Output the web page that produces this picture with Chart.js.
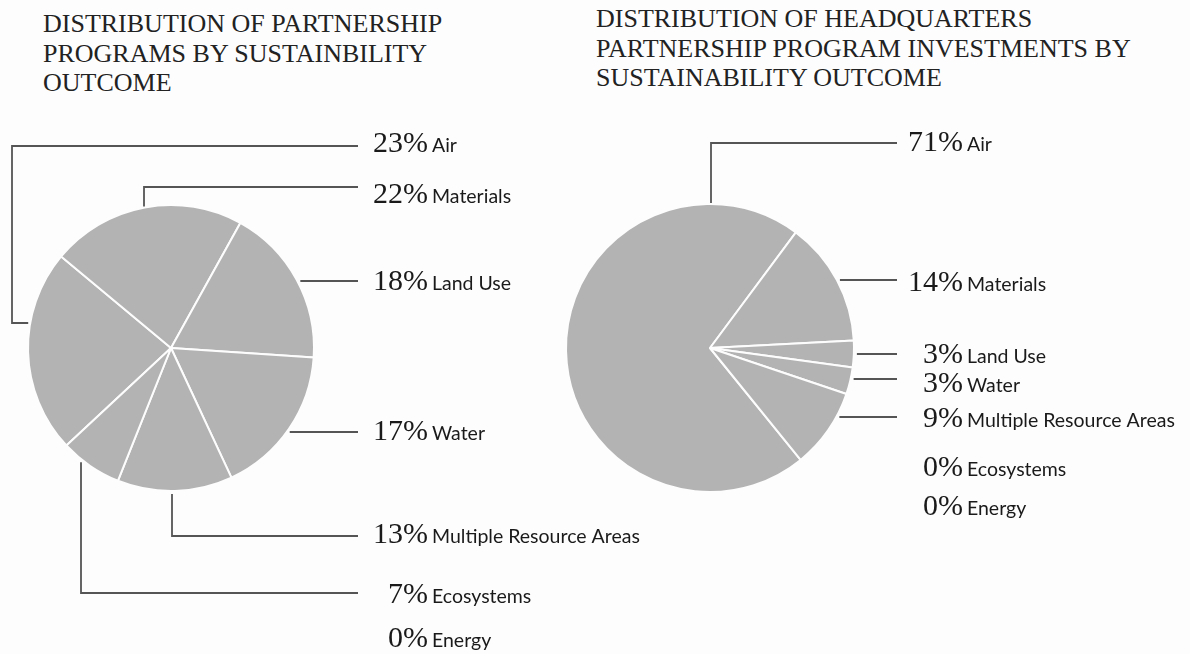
<!DOCTYPE html>
<html>
<head>
<meta charset="utf-8">
<script src="https://cdn.jsdelivr.net/npm/chart.js@4"></script>
<style>
  body { margin: 0; background: #fdfdfd; width: 1190px; height: 654px; overflow: hidden; position: relative; }
  .title { position: absolute; font-family: "Liberation Serif", serif; font-size: 26px; line-height: 29.5px; color: #222; white-space: nowrap; }
  canvas { position: absolute; top: 0; }
</style>
</head>
<body>
<div class="title" id="titleLeft" style="left:43px; top:9px;"></div>
<div class="title" id="titleRight" style="left:596px; top:4px;"></div>
<canvas id="programs" width="700" height="654" style="left:0"></canvas>
<canvas id="investments" width="630" height="654" style="left:560px"></canvas>
<script>
// the numbers
var outcomes = ['Air', 'Materials', 'Land Use', 'Water', 'Multiple Resource Areas', 'Ecosystems', 'Energy'];
var programShare = [23, 22, 18, 17, 13, 7, 0];
var investmentShare = [71, 14, 3, 3, 9, 0, 0];

var titleLeft = ['DISTRIBUTION OF PARTNERSHIP', 'PROGRAMS BY SUSTAINBILITY', 'OUTCOME'];
var titleRight = ['DISTRIBUTION OF HEADQUARTERS', 'PARTNERSHIP PROGRAM INVESTMENTS BY', 'SUSTAINABILITY OUTCOME'];

document.getElementById('titleLeft').innerHTML = titleLeft.join('<br>');
document.getElementById('titleRight').innerHTML = titleRight.join('<br>');

// where the labels sit and how the leader lines run (canvas pixels)
var leftLayout = {
  pctRight: 428, lineEnd: 358, elbowX: 12,
  rows: [
    { text: 142, line: 146, kind: 'side', y: 323 },
    { text: 193, line: 187, kind: 'top', x: 144 },
    { text: 280, line: 281, kind: 'right' },
    { text: 430, line: 432, kind: 'right' },
    { text: 533, line: 536, kind: 'bottom', x: 172 },
    { text: 593, line: 593, kind: 'bottom', x: 81 },
    { text: 637 }
  ]
};
var rightLayout = {
  pctRight: 403, lineEnd: 337,
  rows: [
    { text: 141, line: 143, kind: 'top', x: 151 },
    { text: 281, line: 280, kind: 'right' },
    { text: 353, line: 354, kind: 'right' },
    { text: 382, line: 379, kind: 'right' },
    { text: 417, line: 417, kind: 'right' },
    { text: 466 },
    { text: 505 }
  ]
};

function leaders(lay) {
  return {
    id: 'leaders',
    afterDraw: function(chart) {
      var ctx = chart.ctx;
      var arc = chart.getDatasetMeta(0).data[0];
      var cx = arc.x, cy = arc.y, r = arc.outerRadius;
      var values = chart.data.datasets[0].data;
      var names = chart.data.labels;
      ctx.save();
      ctx.strokeStyle = '#555';
      ctx.lineWidth = 1.8;
      lay.rows.forEach(function(row, i) {
        if (row.line != null) {
          ctx.beginPath();
          if (row.kind == 'top' || row.kind == 'bottom') {
            var dy = Math.sqrt(r * r - (row.x - cx) * (row.x - cx));
            var y0 = row.kind == 'top' ? cy - dy - 1 : cy + dy + 3;
            ctx.moveTo(row.x, y0);
            ctx.lineTo(row.x, row.line);
          } else if (row.kind == 'side') {
            var dx = Math.sqrt(r * r - (row.y - cy) * (row.y - cy));
            ctx.moveTo(cx - dx - 2, row.y);
            ctx.lineTo(lay.elbowX, row.y);
            ctx.lineTo(lay.elbowX, row.line);
          } else {
            var dx2 = Math.sqrt(r * r - (row.line - cy) * (row.line - cy));
            ctx.moveTo(cx + dx2 + 3, row.line);
          }
          ctx.lineTo(lay.lineEnd, row.line);
          ctx.stroke();
        }
        var base = row.text + 10;
        ctx.fillStyle = '#1a1a1a';
        ctx.textBaseline = 'alphabetic';
        ctx.textAlign = 'right';
        ctx.font = '30px "Liberation Serif"';
        ctx.fillText(values[i] + '%', lay.pctRight, base);
        ctx.textAlign = 'left';
        ctx.font = '19.5px Lato';
        ctx.fillText(names[i], lay.pctRight + 4, base);
      });
      ctx.restore();
    }
  };
}

function makePie(id, values, rotation, pad, lay) {
  return new Chart(document.getElementById(id), {
    type: 'pie',
    data: {
      labels: outcomes,
      datasets: [{
        data: values,
        backgroundColor: '#b3b3b3',
        borderColor: '#fdfdfd',
        borderWidth: 2
      }]
    },
    options: {
      responsive: false,
      animation: false,
      events: [],
      rotation: rotation,
      layout: { padding: pad },
      plugins: { legend: { display: false }, tooltip: { enabled: false } }
    },
    plugins: [leaders(lay)]
  });
}

makePie('programs', programShare, 227, { left: 27, right: 385, top: 204, bottom: 162 }, leftLayout);
makePie('investments', investmentShare, 141, { left: 5, right: 335, top: 203, bottom: 161 }, rightLayout);
</script>
</body>
</html>
